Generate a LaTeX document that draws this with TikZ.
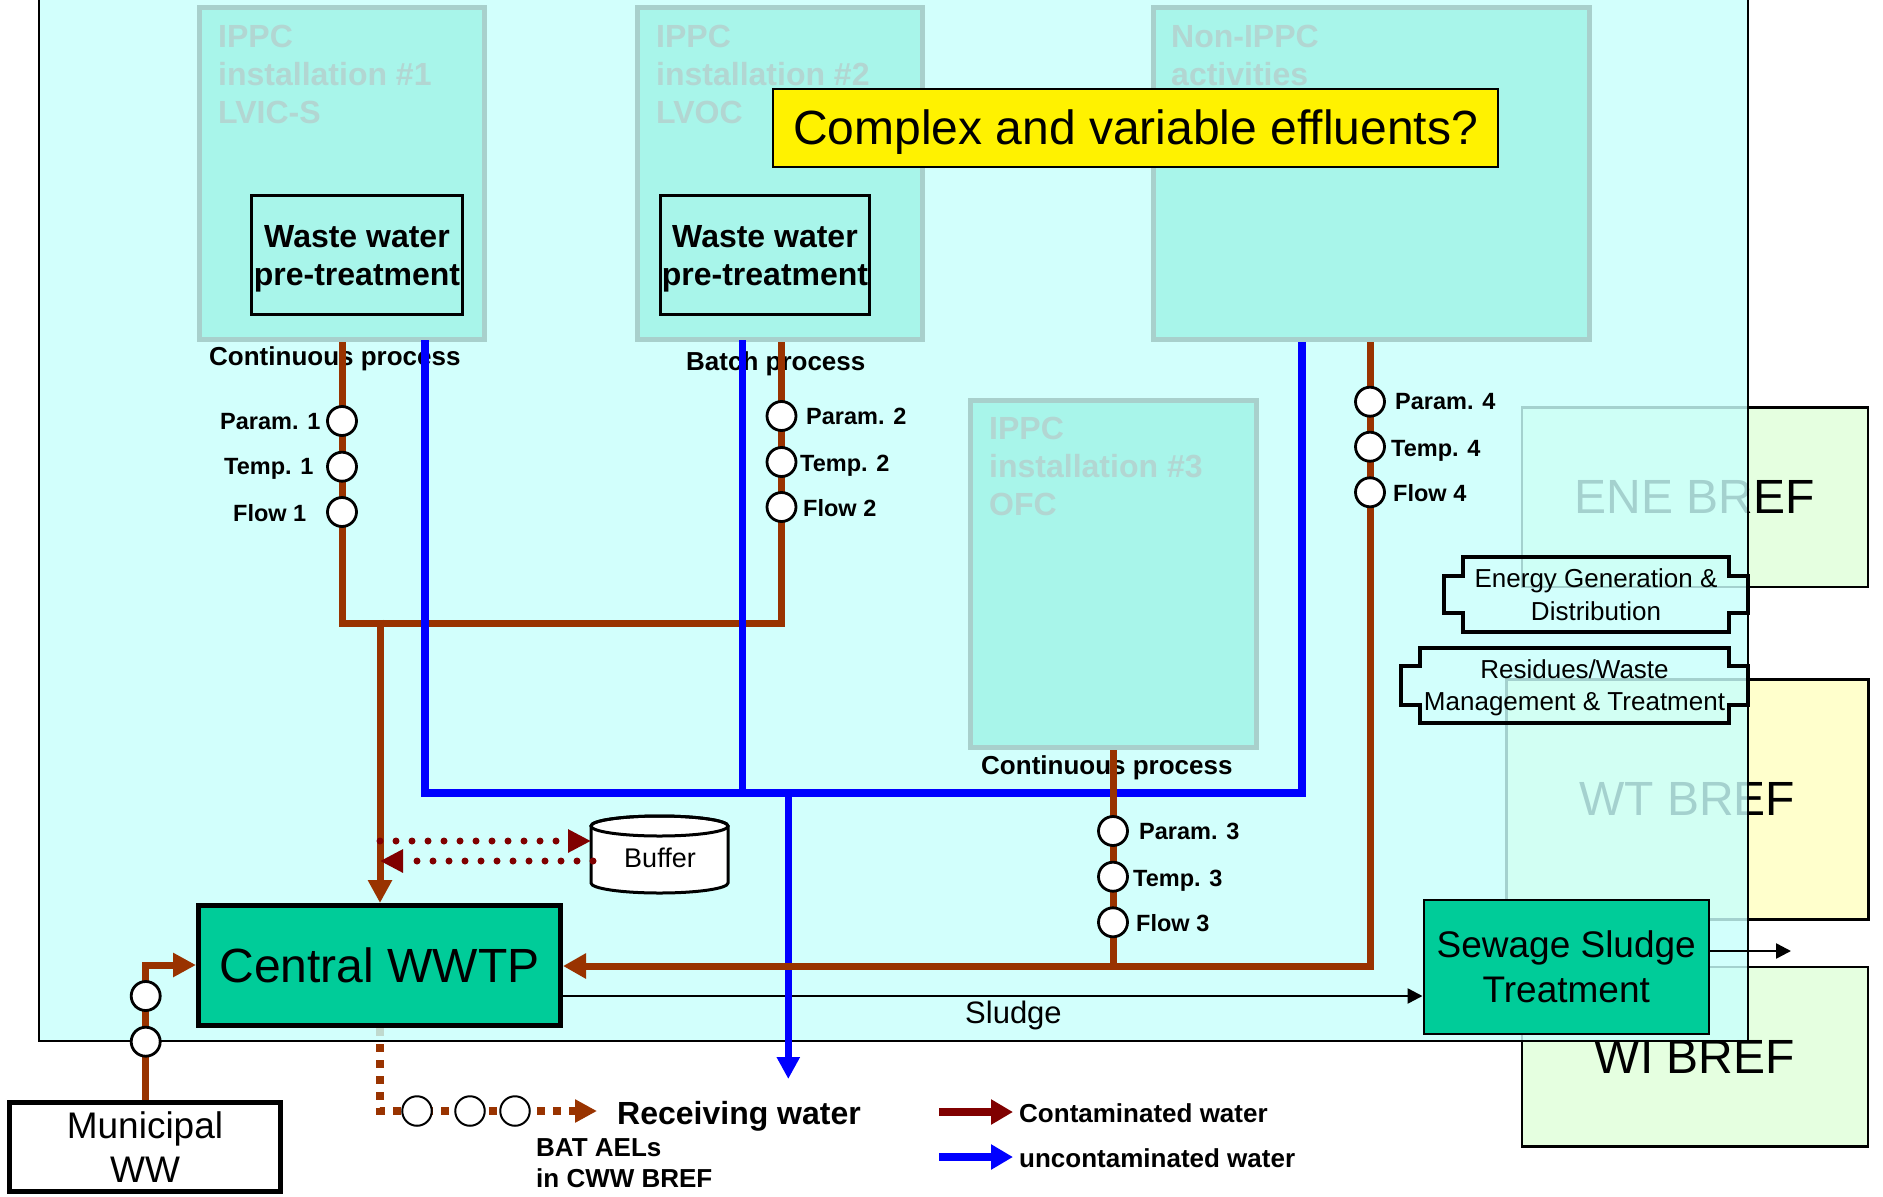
\documentclass[tikz,border=0pt]{standalone}
\usepackage{fontspec}
\setmainfont{Liberation Sans}
\usetikzlibrary{arrows.meta}
\definecolor{cyanbg}{rgb}{0.79,1.0,0.99}
\definecolor{instfill}{RGB}{168,245,234}
\definecolor{instborder}{RGB}{168,208,204}
\definecolor{insttext}{RGB}{178,214,210}
\definecolor{pipebrown}{RGB}{153,51,0}
\definecolor{legred}{RGB}{128,0,0}
\definecolor{wwtpgreen}{RGB}{0,204,153}
\definecolor{brefgreen}{RGB}{229,255,224}
\definecolor{brefyellow}{RGB}{255,255,204}
\begin{document}
\begin{tikzpicture}[x=1pt,y=-1pt,
  every node/.style={inner sep=0pt},
  box/.style={draw=black, anchor=north west},
  inst/.style={box, draw=instborder, fill=instfill, line width=5pt},
  insttitle/.style={anchor=north west, align=left, text=insttext, font=\fontsize{32}{38}\selectfont\bfseries},
  wwbox/.style={box, line width=3pt, fill=instfill, align=center, text depth=0pt, font=\fontsize{32}{38}\selectfont\bfseries},
  bref/.style={box, line width=2.5pt, font=\fontsize{48}{56}\selectfont},
  proc/.style={anchor=base west, font=\fontsize{26}{31}\selectfont\bfseries},
  plbl/.style={anchor=base west, font=\fontsize{23.5}{28}\selectfont\bfseries},
  meter/.style={circle, draw=black, line width=2.8pt, fill=white, minimum size=29pt},
  outmeter/.style={circle, draw=black, line width=2pt, fill=white, minimum size=29.5pt},
  brownpipe/.style={draw=pipebrown, line width=7pt},
  bluepipe/.style={draw=blue, line width=7.5pt},
  bigtip/.style={-{Triangle[length=23pt,width=23pt]}},
  shapetext/.style={align=center, text depth=0pt, font=\fontsize{26}{33}\selectfont},
]
\useasboundingbox (0,0) rectangle (1883,1197);
\fill[white] (0,0) rectangle (1883,1197);

% BREF boxes (under the translucent site area)
\node[bref, fill=brefgreen, minimum width=345.8pt, minimum height=179.5pt] (ene) at (1520.7,406) {ENE BREF};
\node[bref, fill=brefyellow, minimum width=362pt, minimum height=240.2pt] (wt) at (1505,678) {WT BREF};
\node[bref, fill=brefgreen, minimum width=345.8pt, minimum height=179.5pt] (wi) at (1520.7,965.7) {WI BREF};

% outlet to receiving water
\coordinate (outtop) at (380,1028);
\coordinate (outbend) at (380,1111);
\coordinate (outend) at (597,1111);
\draw[pipebrown, line width=8pt, dash pattern=on 8pt off 8pt, -{Triangle[length=22pt,width=22pt]}] (outtop) -- (outbend) -- (outend);

% site area
\fill[cyanbg, fill opacity=0.82] (39,-20) rectangle (1748,1041);
\draw[black, line width=2pt] (39,-20) -- (39,1041) -- (1748,1041) -- (1748,-20);

% installations
\node[inst, minimum width=284.5pt, minimum height=332pt] (inst1) at (197,5) {};
\node[inst, minimum width=285pt, minimum height=332pt] (inst2) at (635,5) {};
\node[inst, minimum width=435.5pt, minimum height=332pt] (nonippc) at (1151,5) {};
\node[inst, minimum width=285.5pt, minimum height=347pt] (inst3) at (968,398) {};
\node[insttitle] (t_inst1) at (218,24.7) {IPPC\\installation \#1\\LVIC-S};
\node[insttitle] (t_inst2) at (656,24.7) {IPPC\\installation \#2\\LVOC};
\node[insttitle] (t_non) at (1171,24.7) {Non-IPPC\\activities};
\node[insttitle] (t_inst3) at (989,416.7) {IPPC\\installation \#3\\OFC};
\node[wwbox, minimum width=211pt, minimum height=119pt] (ww1) at (250,194) {Waste water\\pre-treatment};
\node[wwbox, minimum width=209pt, minimum height=119pt] (ww2) at (659,194) {Waste water\\pre-treatment};
\node[box, line width=2pt, fill=yellow, minimum width=725pt, minimum height=78pt, text height=35pt, text depth=3pt, font=\fontsize{48}{56}\selectfont] (question) at (772,88) {Complex and variable effluents?};

% process labels
\node[proc] (proc1) at (209,365) {Continuous process};
\node[proc] (proc2) at (686,370) {Batch process};
\node[proc] (proc3) at (981,774) {Continuous process};

% treatment boxes
\node[box, line width=5pt, fill=wwtpgreen, minimum width=362pt, minimum height=120pt, font=\fontsize{48}{56}\selectfont] (wwtp) at (196,903) {Central WWTP};
\node[box, line width=2pt, fill=wwtpgreen, minimum width=285.5pt, minimum height=134pt, align=center, text depth=0pt, font=\fontsize{37}{45}\selectfont] (sewage) at (1422.5,899) {Sewage Sludge\\Treatment};
\node[box, line width=5pt, fill=white, minimum width=271pt, minimum height=89pt, align=center, text depth=0pt, font=\fontsize{37}{44}\selectfont] (municipal) at (7,1100) {Municipal\\WW};

% buffer tank
\filldraw[fill=white, draw=black, line width=3pt] (591,826) -- (591,883) arc[start angle=180, end angle=0, x radius=68.5, y radius=10] -- (728,826) arc[start angle=0, end angle=-180, x radius=68.5, y radius=10] -- cycle;
\draw[line width=3pt] (659.5,826) ellipse [x radius=68.5, y radius=10];
\node[font=\fontsize{27}{32}\selectfont] (buffer) at (660,858) {Buffer};

% sludge line
\coordinate (slrow) at (0,996);
\draw[line width=2.5pt, -{Triangle[length=15pt,width=15pt]}] (wwtp.east |- slrow) -- (sewage.west |- slrow);
\node[anchor=base west, font=\fontsize{31}{37}\selectfont] (sludgelbl) at (965,1023) {Sludge};

% meters (positions)
\coordinate (jrow) at (0,623);
\coordinate (brow) at (0,966);
\coordinate (mrow) at (0,965);
\coordinate (urow) at (0,793);

% contaminated pipes 1 and 2
\path (342,421) coordinate (c1) (781.5,416) coordinate (c2);
\draw[brownpipe] (c1 |- inst1.south) -- (c1 |- jrow) -- (c2 |- jrow) -- (c2 |- inst2.south);
\coordinate (jd) at (380,619.5);
\draw[brownpipe, bigtip] (jd) -- (jd |- wwtp.north);

% uncontaminated pipes
\coordinate (u1) at (425,340);
\coordinate (u2) at (742.7,340);
\coordinate (u4) at (1302,342);
\coordinate (udown) at (788.3,793);
\coordinate (uend) at (788.3,1079);
\draw[bluepipe] (u1) -- (u1 |- urow) -- (u4 |- urow) -- (u4);
\draw[bluepipe] (u2) -- (u2 |- urow);
\draw[bluepipe, -{Triangle[length=22pt,width=22pt]}] (udown) -- (uend);

% contaminated pipes 3, 4 and municipal
\path (1113,831) coordinate (c3) (1370,401.7) coordinate (c4) (145.7,996) coordinate (cm);
\draw[brownpipe] (c3 |- inst3.south) -- (c3 |- brow);
\draw[brownpipe, -{Triangle[length=23pt,width=24pt]}] (c4 |- nonippc.south) -- (c4 |- brow) -- (wwtp.east |- brow);
\draw[brownpipe, bigtip] (cm |- municipal.north) -- (cm |- mrow) -- (wwtp.west |- mrow);

% buffer flows
\coordinate (bufin) at (591,841);
\coordinate (bufout) at (593,861);
\draw[legred, line width=7pt, line cap=round, dash pattern=on 0pt off 16pt, -{Triangle[length=23pt,width=22pt]}] (jd |- bufin) -- (bufin);
\draw[legred, line width=7pt, line cap=round, dash pattern=on 0pt off 16pt, -{Triangle[length=23pt,width=22pt]}] (bufout) -- (jd |- bufout);

% meters
\node[meter] (p1) at (342,421) {};
\node[meter] (t1) at (342,466.7) {};
\node[meter] (f1) at (342,512) {};
\node[meter] (p2) at (781.5,416) {};
\node[meter] (t2) at (781.5,462) {};
\node[meter] (f2) at (781.5,507) {};
\node[meter] (p3) at (1113,831) {};
\node[meter] (t3) at (1113,876.7) {};
\node[meter] (f3) at (1113,922.3) {};
\node[meter] (p4) at (1370,401.7) {};
\node[meter] (t4) at (1370,446.7) {};
\node[meter] (f4) at (1370,492.3) {};
\node[meter] (m1) at (145.7,996) {};
\node[meter] (m2) at (145.7,1041.7) {};
\node[outmeter] (o1) at (417,1111) {};
\node[outmeter] (o2) at (470,1111) {};
\node[outmeter] (o3) at (515,1111) {};

\node[plbl] (lp1) at (220,429) {Param. 1};
\node[plbl] (lt1) at (224,474) {Temp. 1};
\node[plbl] (lf1) at (233,521.5) {Flow 1};
\node[plbl] (lp2) at (806,424) {Param. 2};
\node[plbl] (lt2) at (800,471.5) {Temp. 2};
\node[plbl] (lf2) at (803,516.5) {Flow 2};
\node[plbl] (lp3) at (1139,839) {Param. 3};
\node[plbl] (lt3) at (1133,886.5) {Temp. 3};
\node[plbl] (lf3) at (1136,931.5) {Flow 3};
\node[plbl] (lp4) at (1395,409) {Param. 4};
\node[plbl] (lt4) at (1391,456.5) {Temp. 4};
\node[plbl] (lf4) at (1393,501.5) {Flow 4};

% activity tags
\draw[line width=4pt] (1463,557) -- (1729,557) -- (1729,576) -- (1748,576) -- (1748,613) -- (1729,613) -- (1729,632) -- (1463,632) -- (1463,613) -- (1444,613) -- (1444,576) -- (1463,576) -- cycle;
\node[shapetext] (energy) at (1596,594.5) {Energy Generation \&\\Distribution};
\draw[line width=4pt] (1420,648) -- (1729,648) -- (1729,666) -- (1748,666) -- (1748,705) -- (1729,705) -- (1729,723) -- (1420,723) -- (1420,705) -- (1401,705) -- (1401,666) -- (1420,666) -- cycle;
\node[shapetext, font=\fontsize{26}{32}\selectfont] (residues) at (1574.5,685.5) {Residues/Waste\\Management \& Treatment};

% sludge output
\coordinate (sout) at (1791,951);
\draw[line width=2.5pt, -{Triangle[length=15pt,width=15pt]}] (sewage.east |- sout) -- (sout);

% receiving water
\node[anchor=base west, font=\fontsize{32}{38}\selectfont\bfseries] (recv) at (617,1124) {Receiving water};
\node[anchor=north west, align=left, font=\fontsize{26}{31}\selectfont\bfseries] (batael) at (536,1138) {BAT AELs\\in CWW BREF};

% legend
\coordinate (lc1) at (939,1112);
\coordinate (lc2) at (1013,1112);
\coordinate (lu1) at (939,1157);
\coordinate (lu2) at (1013,1157);
\draw[legred, line width=8.7pt, -{Triangle[length=22pt,width=24pt]}] (lc1) -- (lc2);
\draw[blue, line width=8.7pt, -{Triangle[length=22pt,width=24pt]}] (lu1) -- (lu2);
\node[proc] (legc) at (1019,1122) {Contaminated water};
\node[proc] (legu) at (1019,1167) {uncontaminated water};
\end{tikzpicture}
\end{document}
